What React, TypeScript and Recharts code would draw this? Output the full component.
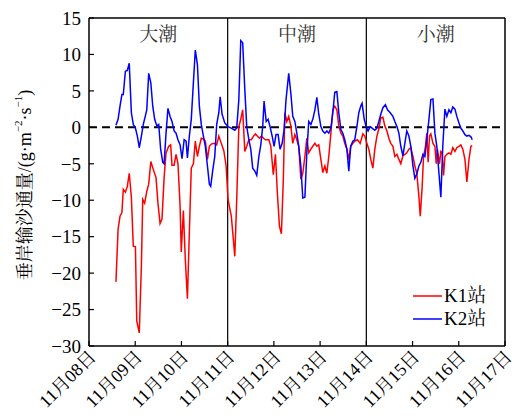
import { LineChart, Line, XAxis, YAxis, ReferenceLine, ReferenceArea, Legend } from "recharts";

// 横轴：从11月08日0时起算的小时数
const dayLabels = ["11月08日", "11月09日", "11月10日", "11月11日", "11月12日", "11月13日", "11月14日", "11月15日", "11月16日", "11月17日"];
const dayTicks = [0, 24, 48, 72, 96, 120, 144, 168, 192, 216];
const yTicks = [-30, -25, -20, -15, -10, -5, 0, 5, 10, 15];
const phaseNames = ["大潮", "中潮", "小潮"];
const phaseBounds = [0, 72, 144, 216];

// K1站
const k1Hours = [
  14.0, 15.1, 16.1, 17.1, 17.8, 18.9, 19.9, 20.9, 22.0, 23.0, 24.1, 24.8, 26.1, 27.2, 27.9, 28.9, 30.0, 31.0, 32.1, 33.4,
  34.8, 35.8, 36.9, 37.9, 39.0, 40.0, 41.4, 42.4, 43.1, 44.2, 45.2, 46.2, 47.3, 47.9, 49.0, 50.0, 51.1, 52.1, 53.1, 54.2,
  55.2, 56.3, 57.3, 58.3, 59.4, 60.4, 61.5, 62.5, 63.5, 64.9, 66.3, 67.4, 68.7, 70.0, 71.2, 72.2, 73.9, 75.7, 76.7, 77.8,
  78.8, 79.8, 80.9, 81.9, 83.0, 84.3, 85.4, 86.4, 87.4, 88.5, 89.5, 90.6, 91.6, 93.4, 94.4, 95.7, 96.8, 97.8, 98.9, 99.9,
  100.9, 101.7, 102.7, 103.7, 104.8, 105.8, 106.9, 107.9, 108.9, 110.0, 111.0, 112.1, 113.1, 114.1, 115.2, 116.2, 117.3, 118.3, 119.3, 120.4,
  121.4, 122.5, 123.5, 124.5, 125.6, 126.6, 127.6, 128.7, 129.7, 130.8, 131.8, 132.8, 133.9, 134.9, 135.9, 137.0, 138.0, 139.4, 140.8, 142.2,
  143.2, 144.3, 145.3, 146.3, 147.4, 148.4, 149.5, 150.5, 151.5, 152.6, 153.6, 154.7, 155.7, 156.7, 157.8, 158.8, 159.9, 160.9, 161.9, 163.0,
  164.0, 165.0, 166.1, 167.1, 168.2, 169.2, 170.2, 171.3, 172.0, 173.0, 173.7, 174.7, 175.4, 176.1, 176.8, 177.5, 178.6, 179.6, 180.3, 180.9,
  182.0, 182.7, 183.4, 184.1, 184.8, 185.8, 186.9, 187.9, 188.9, 190.0, 191.0, 192.1, 193.1, 194.1, 195.2, 196.2, 197.3, 198.3, 199.0,
];
const k1Values = [
  -21.2, -14.0, -12.2, -11.7, -8.5, -8.9, -8.1, -6.3, -9.6, -16.3, -16.4, -26.6, -28.2, -19.0, -9.9, -10.4, -8.8, -7.8, -4.7, -5.8,
  -6.9, -10.4, -13.2, -12.6, -6.9, -3.5, -2.6, -2.4, -5.2, -5.2, -3.7, -5.0, -10.8, -17.1, -11.4, -18.1, -23.5, -14.5, -5.6, -5.0,
  -1.9, -4.0, -2.6, -1.5, -1.6, -1.9, -4.4, -2.6, -2.3, -2.2, -2.4, -1.2, -2.2, -3.2, -5.3, -9.9, -12.2, -17.7, -9.9, 0.1,
  1.1, 2.4, -3.3, -2.6, -1.7, -1.7, -1.2, -0.9, -1.2, -1.5, -1.2, -1.5, -1.7, -1.7, -2.6, -6.5, -3.7, -9.0, -13.6, -14.6,
  -7.2, 2.0, 0.8, 1.5, 0.2, -2.2, -1.0, -1.7, -2.6, -7.1, -6.3, -4.0, -1.5, -3.5, -3.0, -2.6, -2.2, -2.6, -2.4, -4.4,
  -6.2, -5.3, -6.3, -4.0, -0.8, 2.4, 2.9, 2.4, 0.2, -0.8, -1.2, -2.2, -3.0, -4.4, -2.6, -2.2, -1.9, -1.7, -2.2, -0.9,
  -1.2, -2.2, -3.0, -4.4, -5.6, -3.0, -1.2, -0.2, 1.3, 1.4, 0.2, -0.5, -1.5, -2.2, -2.6, -4.0, -3.7, -4.4, -5.0, -3.9,
  -3.7, -3.5, -3.0, -2.8, -4.0, -5.3, -6.3, -9.5, -12.2, -8.1, -4.0, -2.6, -0.8, -4.8, -1.2, -0.9, -2.2, -2.6, -5.0, -3.0,
  -5.0, -3.3, -3.5, -6.6, -4.0, -3.7, -3.5, -3.7, -2.8, -3.3, -2.8, -2.6, -2.4, -3.0, -4.4, -7.5, -4.4, -2.6, -2.5,
];

// K2站
const k2Hours = [
  14.0, 15.1, 16.1, 17.1, 17.8, 18.9, 19.9, 20.9, 22.0, 23.0, 24.1, 25.1, 26.1, 27.2, 28.2, 29.2, 30.0, 31.0, 32.1, 33.1,
  34.1, 35.2, 36.2, 37.2, 38.3, 39.0, 40.0, 41.0, 42.1, 43.1, 44.2, 45.2, 46.2, 47.3, 48.3, 49.4, 50.4, 51.1, 52.1, 53.1,
  54.2, 55.2, 56.3, 57.3, 58.3, 59.4, 60.4, 61.5, 62.5, 63.2, 64.3, 65.3, 66.3, 67.4, 68.1, 69.1, 70.5, 72.2, 73.9, 75.7,
  76.7, 77.8, 78.8, 79.8, 80.9, 81.9, 83.0, 84.0, 85.0, 86.1, 87.1, 88.2, 89.2, 90.2, 90.9, 92.0, 93.0, 94.0, 95.1, 96.1,
  97.1, 98.2, 99.2, 100.3, 101.3, 102.3, 103.7, 104.8, 105.8, 106.9, 107.9, 108.9, 110.0, 111.0, 112.1, 113.1, 114.1, 115.2, 116.2, 117.3,
  118.3, 119.3, 120.4, 121.4, 122.5, 123.5, 124.5, 125.6, 126.6, 127.6, 128.7, 129.7, 130.8, 131.8, 132.8, 133.9, 134.9, 135.9, 137.0, 138.0,
  139.1, 140.1, 141.2, 141.8, 142.9, 143.9, 144.9, 146.0, 147.0, 148.4, 149.5, 150.5, 151.5, 152.6, 153.9, 155.0, 156.4, 157.8, 158.8, 159.9,
  160.9, 161.9, 163.0, 164.0, 165.0, 166.1, 167.1, 168.2, 169.2, 170.2, 171.3, 172.3, 173.4, 174.4, 175.4, 176.5, 177.5, 178.6, 179.6, 180.6,
  181.7, 182.7, 183.7, 184.8, 185.8, 186.9, 187.9, 188.9, 190.0, 191.0, 192.1, 193.1, 194.1, 195.2, 196.2, 197.3, 198.3, 199.0,
];
const k2Values = [
  0.3, 1.1, 2.9, 4.5, 4.5, 7.7, 7.8, 8.8, 2.0, 0.4, -0.1, -1.2, -2.8, -1.2, 0.4, 1.5, 2.4, 7.4, 6.1, 2.9,
  1.1, 0.2, 0.4, -3.0, -4.8, -5.0, -0.8, 2.6, 1.5, 0.8, -0.5, -0.8, -1.7, -2.4, -4.3, -1.7, -1.9, -4.2, -1.2, 1.1,
  6.1, 10.6, 8.6, 2.9, 0.4, -1.2, -2.6, -5.3, -7.8, -8.1, -5.8, -4.0, 0.4, 2.0, 4.2, 1.8, 0.6, 0.1, -0.1, -0.4,
  -0.1, 3.8, 11.9, 11.6, 5.2, 0.1, -1.7, -3.0, -5.6, -6.0, -6.6, -4.0, -2.4, 0.1, 3.6, 0.8, 1.1, 0.1, -1.2, -2.6,
  -1.0, -1.0, -3.0, -2.2, -0.3, 3.8, 7.4, 4.7, 1.5, 0.8, -0.8, -2.6, -5.3, -9.7, -9.6, -3.5, 0.8, 0.4, 1.1, 2.4,
  4.1, 1.8, 0.1, -0.5, -0.8, -0.5, -0.8, -0.1, 2.0, 4.8, 4.9, 2.0, -0.3, -0.8, -1.7, -3.0, -6.0, -2.6, -1.9, -1.7,
  0.1, 2.0, 3.0, 3.3, 1.1, 0.1, -0.5, 0.1, -0.1, -0.4, -0.1, 0.8, 1.8, 2.7, 3.1, 2.4, 2.0, 1.5, 0.8, 0.1,
  -0.8, -2.6, -3.9, -2.2, -0.5, -1.2, -2.6, -5.3, -7.0, -6.4, -5.3, -4.8, -3.7, -4.0, -1.7, 1.1, 3.8, 3.9, -0.8, -2.6,
  -6.3, -9.6, -2.6, 2.5, 1.5, 2.4, 2.0, 2.8, 2.5, 1.5, 0.6, -0.1, -0.5, -1.0, -1.2, -1.1, -1.3, -1.7,
];

const k1Data = k1Hours.map((t, i) => ({ t, v: k1Values[i] }));
const k2Data = k2Hours.map((t, i) => ({ t, v: k2Values[i] }));

const FONT = "'Liberation Serif', 'Times New Roman', 'Noto Serif CJK SC', 'Noto Sans CJK SC', serif";

function DayTick(props: any) {
  const { x, y, payload } = props;
  const idx = dayTicks.indexOf(payload.value);
  return (
    <g transform={`translate(${x + 8},${y + 12})`}>
      <text transform="rotate(-45)" textAnchor="end" fontSize={18} fontFamily={FONT} fill="#000">
        {dayLabels[idx]}
      </text>
    </g>
  );
}

function YLabel(props: any) {
  const vb = props.viewBox;
  const cx = 25;
  const cy = vb.y + vb.height / 2 + 3;
  return (
    <text
      transform={`translate(${cx},${cy}) rotate(-90)`}
      textAnchor="middle"
      dominantBaseline="central"
      fontSize={18}
      fontFamily={FONT}
      fill="#000"
    >
      垂岸输沙通量/(g·m
      <tspan dy={-7} fontSize={11}>−2</tspan>
      <tspan dy={7}>·s</tspan>
      <tspan dy={-7} fontSize={11}>−1</tspan>
      <tspan dy={7}>)</tspan>
    </text>
  );
}

function LegendBox() {
  const items = [
    { name: "K1站", color: "#ff0000" },
    { name: "K2站", color: "#0000ff" },
  ];
  return (
    <svg width={100} height={50}>
      {items.map((it, i) => (
        <g key={it.name}>
          <line x1={3} x2={32} y1={11 + i * 23} y2={11 + i * 23} stroke={it.color} strokeWidth={1.5} />
          <text x={34} y={17 + i * 23} fontSize={19} fontFamily={FONT} fill="#000">
            {it.name}
          </text>
        </g>
      ))}
    </svg>
  );
}

export default function App() {
  return (
    <div style={{ position: "absolute", left: 0, top: 0, width: 516, height: 419, background: "#fff" }}>
      <LineChart width={516} height={419} margin={{ top: 18, right: 11, bottom: 0, left: 0 }}>
        <XAxis
          type="number"
          dataKey="t"
          domain={[0, 216]}
          ticks={dayTicks}
          interval={0}
          height={73}
          tickSize={-5}
          tickMargin={5}
          tick={<DayTick />}
          axisLine={{ stroke: "#000", strokeWidth: 1.5 }}
          tickLine={{ stroke: "#000", strokeWidth: 1.2 }}
        />
        <YAxis
          type="number"
          domain={[-30, 15]}
          ticks={yTicks}
          interval={0}
          width={89}
          tickSize={-5}
          tickMargin={13}
          tickFormatter={(v: number) => (v < 0 ? `−${Math.abs(v)}` : `${v}`)}
          tick={{ fontSize: 19, fontFamily: FONT, fill: "#000" }}
          axisLine={{ stroke: "#000", strokeWidth: 1.5 }}
          tickLine={{ stroke: "#000", strokeWidth: 1.2 }}
          label={{ content: YLabel }}
        />
        {phaseNames.map((name, i) => (
          <ReferenceArea
            key={name}
            x1={phaseBounds[i]}
            x2={phaseBounds[i + 1]}
            y1={-30}
            y2={15}
            fill="none"
            fillOpacity={0}
            stroke="none"
            label={{ value: name, position: "insideTop", offset: 10, fontSize: 19, fill: "#333", fontFamily: FONT }}
          />
        ))}
        <ReferenceLine y={15} stroke="#000" strokeWidth={1.5} />
        <ReferenceLine x={216} stroke="#000" strokeWidth={1.5} />
        <ReferenceLine x={72} stroke="#000" strokeWidth={1.2} />
        <ReferenceLine x={144} stroke="#000" strokeWidth={1.2} />
        <ReferenceLine y={0} stroke="#000" strokeWidth={2} strokeDasharray="8 5" />
        <Line
          data={k1Data}
          dataKey="v"
          name="K1站"
          type="linear"
          stroke="#ff0000"
          strokeWidth={1.5}
          dot={false}
          isAnimationActive={false}
        />
        <Line
          data={k2Data}
          dataKey="v"
          name="K2站"
          type="linear"
          stroke="#0000ff"
          strokeWidth={1.5}
          dot={false}
          isAnimationActive={false}
        />
        <Legend
          layout="vertical"
          align="center"
          verticalAlign="middle"
          content={() => <LegendBox />}
          wrapperStyle={{ position: "absolute", left: 410, top: 285, width: 100, height: 50 }}
        />
      </LineChart>
    </div>
  );
}
